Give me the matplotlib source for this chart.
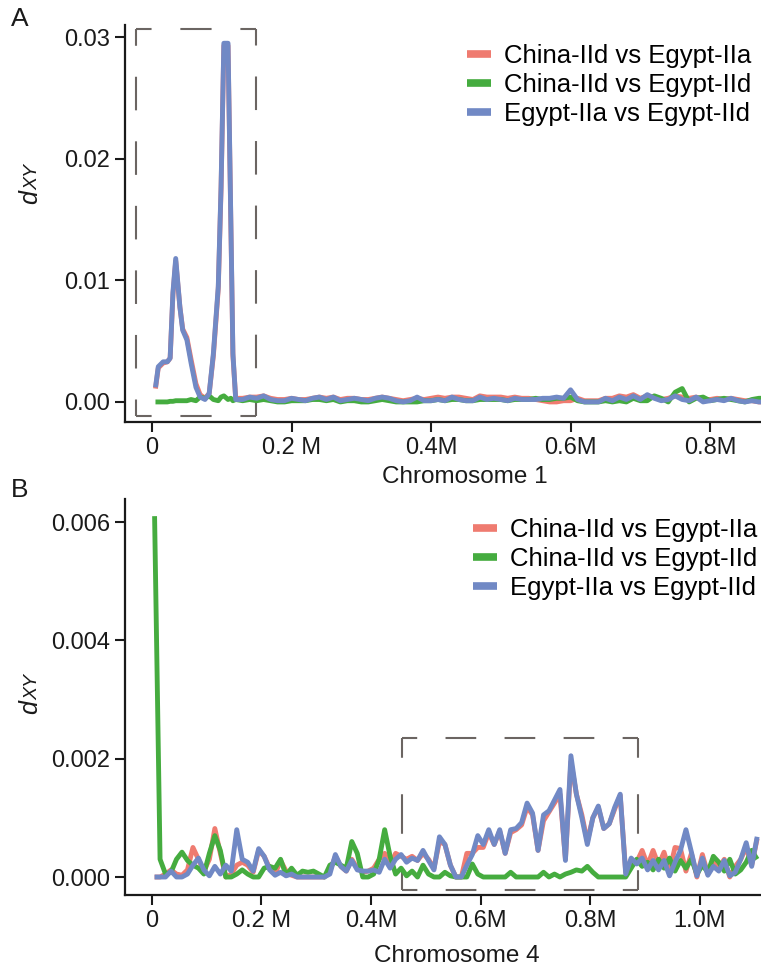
import matplotlib
matplotlib.use('Agg')
import matplotlib.pyplot as plt
import numpy as np
from matplotlib.lines import Line2D

plt.rcParams['font.family'] = ['Liberation Sans', 'DejaVu Sans']

# ---------------- data ----------------
series_names = ["China-IId vs Egypt-IIa", "China-IId vs Egypt-IId", "Egypt-IIa vs Egypt-IId"]
series_colors = ["#EF7B70", "#45AC3F", "#7189C5"]

# Chromosome 1 (positions in Mb, dXY in units of 1e-4)
chr1_pos = [0.005, 0.009, 0.016, 0.022, 0.026, 0.030, 0.034, 0.040, 0.044, 0.050,
            0.056, 0.063, 0.069, 0.076, 0.082, 0.088, 0.095, 0.099, 0.103, 0.109,
            0.113, 0.116, 0.120,
            0.13, 0.14, 0.15, 0.16, 0.17, 0.18, 0.19, 0.20, 0.21, 0.22,
            0.23, 0.24, 0.25, 0.26, 0.27, 0.28, 0.29, 0.30, 0.31, 0.32,
            0.33, 0.34, 0.35, 0.36, 0.37, 0.38, 0.39, 0.40, 0.41, 0.42,
            0.43, 0.44, 0.45, 0.46, 0.47, 0.48, 0.49, 0.50, 0.51, 0.52,
            0.53, 0.54, 0.55, 0.56, 0.57, 0.58, 0.59, 0.60, 0.61, 0.62,
            0.63, 0.64, 0.65, 0.66, 0.67, 0.68, 0.69, 0.70, 0.71, 0.72,
            0.73, 0.74, 0.75, 0.76, 0.77, 0.78, 0.79, 0.80, 0.81, 0.82,
            0.83, 0.84, 0.85, 0.86, 0.87, 0.88]
chr1_cn_egIIa = [11, 28, 32, 33, 36, 88, 116, 78, 60, 53, 35, 15, 6, 3, 7, 38, 93, 175, 293, 293, 148, 38, 3,
                 3, 4, 4, 5, 3, 2, 2, 3, 2, 2,
                 3, 4, 3, 4, 2, 3, 3, 2, 2, 3,
                 4, 3, 2, 1, 2, 3, 2, 3, 4, 3,
                 4, 4, 3, 2, 5, 4, 4, 4, 3, 4,
                 3, 3, 2, 1, 0, 0, 1, 1, 3, 1,
                 1, 1, 3, 3, 5, 4, 6, 3, 5, 4,
                 2, 3, 5, 4, 3, 4, 2, 2, 3, 2,
                 3, 2, 1, 1, 0, 0]
chr1_cn_egIId = [0, 0, 0, 0, 0.5, 0.5, 1, 1, 1, 1, 2, 1, 4, 3, 5, 2, 1, 4, 5, 2, 3, 1, 2,
                 1, 2, 1, 2, 1, 0, 0, 1, 1, 1,
                 2, 2, 1, 2, 0, 1, 1, 0, 0, 1,
                 2, 1, 0, 0, 0, 0, 1, 1, 2, 1,
                 2, 2, 1, 1, 2, 2, 2, 2, 1, 2,
                 2, 2, 3, 2, 2, 3, 3, 4, 1, 0,
                 0, 0, 1, 0, 1, 0, 3, 1, 1, 5,
                 3, 0, 8, 11, 0, 3, 4, 1, 2, 3,
                 2, 1, 0, 2, 3, 3]
chr1_egIIa_egIId = [12, 29, 33, 33, 36, 90, 118, 78, 59, 51, 32, 12, 4, 2, 7, 40, 95, 177, 295, 295, 150, 40, 2,
                    2, 4, 3, 5, 2, 1, 1, 3, 2, 1,
                    3, 4, 2, 4, 1, 2, 3, 2, 1, 3,
                    4, 3, 1, 0, 1, 4, 1, 1, 2, 1,
                    4, 2, 1, 1, 4, 2, 3, 2, 1, 3,
                    2, 2, 2, 3, 3, 4, 3, 10, 2, 0,
                    0, 0, 3, 1, 4, 2, 5, 2, 6, 3,
                    1, 2, 5, 2, 1, 4, 0, 1, 2, 1,
                    3, 1, 0, 1, 0, 0]

# Chromosome 4 (positions in Mb, dXY in units of 1e-5)
chr4_pos = [0.005, 0.015, 0.025, 0.035, 0.045, 0.055, 0.065, 0.075, 0.085, 0.095,
            0.105, 0.115, 0.125, 0.135, 0.145, 0.155, 0.165, 0.175, 0.185, 0.195,
            0.205, 0.215, 0.225, 0.235, 0.245, 0.255, 0.265, 0.275, 0.285, 0.295,
            0.305, 0.315, 0.325, 0.335, 0.345, 0.355, 0.365, 0.375, 0.385, 0.395,
            0.405, 0.415, 0.425, 0.435, 0.445, 0.455, 0.465, 0.475, 0.485, 0.495,
            0.505, 0.515, 0.525, 0.535, 0.545, 0.555, 0.565, 0.575, 0.585, 0.595,
            0.605, 0.615, 0.625, 0.635, 0.645, 0.655, 0.665, 0.675, 0.685, 0.695,
            0.705, 0.715, 0.725, 0.735, 0.745, 0.755, 0.765, 0.775, 0.785, 0.795,
            0.805, 0.815, 0.825, 0.835, 0.845, 0.855, 0.865, 0.875, 0.885, 0.895,
            0.905, 0.915, 0.925, 0.935, 0.945, 0.955, 0.965, 0.975, 0.985, 0.995,
            1.005, 1.015, 1.025, 1.035, 1.045, 1.055, 1.065, 1.075, 1.085, 1.095,
            1.105]
chr4_cn_egIId = [610, 30, 5, 8, 30, 42, 28, 20, 15, 5,
                 40, 70, 45, 0, 0, 5, 12, 5, 0, 0,
                 15, 18, 15, 30, 3, 15, 3, 10, 8, 10,
                 5, 0, 20, 25, 20, 15, 60, 40, 0, 0,
                 5, 30, 80, 35, 5, 15, 2, 10, 0, 20,
                 5, 0, 0, 8, 2, 0, 0, 0, 22, 5,
                 0, 0, 0, 0, 0, 8, 0, 0, 0, 0,
                 0, 8, 0, 5, 0, 5, 8, 12, 10, 18,
                 8, 0, 0, 0, 0, 0, 0, 15, 30, 18,
                 25, 12, 30, 15, 32, 10, 28, 15, 30, 5,
                 20, 8, 35, 25, 10, 30, 5, 12, 25, 45,
                 30]
chr4_cn_egIIa = [0, 0, 5, 12, 5, 3, 12, 50, 30, 10,
                 30, 82, 40, 0, 5, 20, 25, 20, 8, 45,
                 35, 15, 5, 28, 10, 3, 0, 0, 0, 0,
                 0, 0, 10, 35, 18, 10, 30, 15, 8, 10,
                 15, 30, 40, 20, 40, 35, 30, 35, 28, 40,
                 30, 15, 60, 55, 20, 0, 0, 40, 40, 50,
                 50, 75, 55, 78, 40, 75, 80, 88, 118, 105,
                 45, 95, 110, 125, 140, 30, 195, 140, 105, 60,
                 100, 118, 82, 90, 115, 138, 8, 20, 25, 45,
                 20, 45, 20, 42, 10, 50, 48, 10, 40, 0,
                 38, 5, 25, 15, 30, 0, 18, 30, 50, 20,
                 65]
chr4_egIIa_egIId = [0, 0, 0, 10, 0, 0, 5, 20, 32, 12,
                    2, 18, 5, 20, 10, 80, 30, 25, 10, 48,
                    35, 12, 3, 8, 2, 5, 0, 0, 0, 0,
                    0, 0, 5, 38, 18, 10, 28, 12, 10, 10,
                    12, 8, 30, 15, 30, 38, 25, 32, 28, 45,
                    28, 12, 68, 55, 20, 0, 0, 20, 38, 70,
                    55, 80, 55, 80, 40, 80, 82, 92, 125, 108,
                    45, 105, 112, 130, 148, 28, 205, 140, 100, 55,
                    100, 120, 82, 90, 118, 140, 5, 32, 22, 32,
                    12, 28, 12, 28, 2, 25, 45, 80, 42, 2,
                    32, 3, 18, 10, 28, 2, 8, 30, 58, 18,
                    68]

CHR1_UNIT = 1e-4
CHR4_UNIT = 1e-5

chr1_series = [chr1_cn_egIIa, chr1_cn_egIId, chr1_egIIa_egIId]
chr4_series = [chr4_cn_egIIa, chr4_cn_egIId, chr4_egIIa_egIId]

chr1_yticks = [0.0, 0.01, 0.02, 0.03]
chr1_yticklabels = ["0.00", "0.01", "0.02", "0.03"]
chr1_xticks = [0.0, 0.2, 0.4, 0.6, 0.8]
chr1_xticklabels = ["0", "0.2 M", "0.4M", "0.6M", "0.8M"]
chr4_yticks = [0.0, 0.002, 0.004, 0.006]
chr4_yticklabels = ["0.000", "0.002", "0.004", "0.006"]
chr4_xticks = [0.0, 0.2, 0.4, 0.6, 0.8, 1.0]
chr4_xticklabels = ["0", "0.2 M", "0.4M", "0.6M", "0.8M", "1.0M"]

# highlighted windows (Mb, dXY)
chr1_box = (-0.0234, -0.00115, 0.1487, 0.0307)
chr4_box = (0.4566, -0.00022, 0.8877, 0.00235)

# ---------------- figure ----------------
W, H = 761, 967
fig = plt.figure(figsize=(W / 100, H / 100), dpi=100)

def px_axes(left, top, right, bottom):
    return fig.add_axes([left / W, 1 - bottom / H, (right - left) / W, (bottom - top) / H])

ax1 = px_axes(125, 25, 761, 422)
ax2 = px_axes(125, 499, 761, 895)

TICK_FS = 17
LINE_W = 3.5
SPINE_C = "#1a1a1a"

def style_axes(ax):
    for s in ("top", "right"):
        ax.spines[s].set_visible(False)
    for s in ("left", "bottom"):
        ax.spines[s].set_linewidth(1.6)
        ax.spines[s].set_color(SPINE_C)
    ax.tick_params(axis="both", direction="out", length=7, width=1.5,
                   color=SPINE_C, labelsize=TICK_FS, pad=3.5, labelcolor="#1a1a1a")

def draw(ax, pos, series, unit):
    pos = np.asarray(pos)
    for vals, col in zip(series, series_colors):
        ax.plot(pos, np.asarray(vals, dtype=float) * unit, color=col, lw=LINE_W,
                solid_joinstyle="round", solid_capstyle="butt")

draw(ax1, chr1_pos, chr1_series, CHR1_UNIT)
draw(ax2, chr4_pos, chr4_series, CHR4_UNIT)

ax1.set_xlim(-0.0387, 0.873)
ax1.set_ylim(-0.00165, 0.0310)
ax2.set_xlim(-0.049, 1.112)
ax2.set_ylim(-0.000304, 0.00639)

for ax, xt, xtl, yt, ytl in ((ax1, chr1_xticks, chr1_xticklabels, chr1_yticks, chr1_yticklabels),
                              (ax2, chr4_xticks, chr4_xticklabels, chr4_yticks, chr4_yticklabels)):
    style_axes(ax)
    ax.set_xticks(xt)
    ax.set_xticklabels(xtl)
    ax.set_yticks(yt)
    ax.set_yticklabels(ytl)

ax1.set_xlabel("Chromosome 1", fontsize=17.5, labelpad=5, x=0.535, color="#1a1a1a")
ax2.set_xlabel("Chromosome 4", fontsize=17.5, labelpad=10, x=0.522, color="#1a1a1a")

# dashed highlight boxes: each edge drawn with corner-centred dashes
BOX_C = "#6b6562"
BOX_LW = 1.5
PX2PT = 0.72

def dashed_edge(ax, p0, p1, period_px=62.0, duty=0.52):
    disp = ax.transData.transform([p0, p1])
    L = float(np.hypot(*(disp[1] - disp[0])))
    n = max(1, int(round(L / period_px)))
    per = L / n
    on = per * duty
    off = per - on
    on_pt = on * PX2PT / BOX_LW
    off_pt = off * PX2PT / BOX_LW
    ax.plot([p0[0], p1[0]], [p0[1], p1[1]], color=BOX_C, lw=BOX_LW,
            linestyle=(on_pt / 2, (on_pt, off_pt)), solid_capstyle="butt",
            dash_capstyle="butt", zorder=1, clip_on=False)

for ax, (x0, y0, x1, y1) in ((ax1, chr1_box), (ax2, chr4_box)):
    corners = [(x0, y0), (x1, y0), (x1, y1), (x0, y1)]
    for i in range(4):
        dashed_edge(ax, corners[i], corners[(i + 1) % 4])

# legends
handles = [Line2D([], [], color=c, lw=5.5, solid_capstyle="butt") for c in series_colors]
for ax, (lx, ty) in ((ax1, (467, 44)), (ax2, (473, 518))):
    ax.legend(handles, series_names, loc="upper left",
              bbox_to_anchor=(lx / W, 1 - ty / H), bbox_transform=fig.transFigure,
              frameon=False, fontsize=18.5, handlelength=0.95, handletextpad=0.5,
              labelspacing=0.2, borderpad=0, borderaxespad=0)

# y labels: italic d with smaller XY
for (bx, by) in ((37, 204), (37.5, 714)):
    fig.text(bx / W, 1 - by / H, "d", rotation=90, rotation_mode="anchor",
             ha="left", va="baseline", fontsize=18, style="italic", color="#1a1a1a")
    fig.text(bx / W, 1 - (by - 14) / H, "XY", rotation=90, rotation_mode="anchor",
             ha="left", va="baseline", fontsize=14, style="italic", color="#1a1a1a")

# panel letters
fig.text(20 / W, 1 - 19 / H, "A", fontsize=19, ha="center", va="center", color="#1a1a1a")
fig.text(20 / W, 1 - 490 / H, "B", fontsize=19, ha="center", va="center", color="#1a1a1a")

fig.savefig("out.png", dpi=100)
